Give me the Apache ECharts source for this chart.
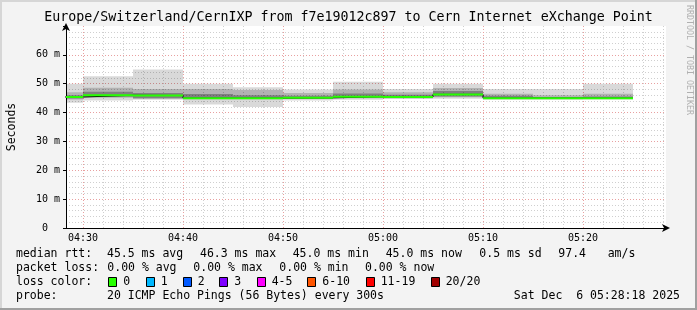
<!DOCTYPE html>
<html><head><meta charset="utf-8">
<script src="https://cdn.jsdelivr.net/npm/echarts@6/dist/echarts.min.js"></script>
<style>html,body{margin:0;padding:0;background:#f3f3f3}#c{width:697px;height:310px}</style>
</head><body><div id="c"></div>
<script>
// time in minutes after 04:00
const segStart = [25,30,35,40,45,50,55,60,65,70,75,80];
const segEnd   = [30,35,40,45,50,55,60,65,70,75,80,85];
const median   = [45.4,46.0,45.9,45.0,45.0,45.1,45.5,45.4,46.3,45.0,45.0,45.0];
const outerLo  = [43.4,44.2,44.4,42.8,41.9,44.2,44.4,44.7,44.8,44.4,44.4,44.5];
const outerHi  = [50.0,52.6,54.9,50.0,48.8,48.0,50.7,48.2,50.0,48.2,48.2,50.0];
const midLo    = [44.5,45.1,44.8,44.6,44.6,44.7,45.0,45.0,45.3,44.8,44.8,44.8];
const midHi    = [47.0,48.6,48.2,48.2,47.8,46.8,48.0,47.0,48.5,46.5,46.0,46.5];
const innerLo  = [44.9,45.5,45.0,44.9,44.9,44.9,45.2,45.2,45.6,44.9,44.9,44.9];
const innerHi  = [46.0,47.2,46.8,46.4,46.0,45.8,46.6,46.2,47.5,45.8,45.4,45.6];
const xMin = 28.3, xMax = 88.3;
const xTickValues = [30,40,50,60,70,80];
const xTickLabels = ['04:30','04:40','04:50','05:00','05:10','05:20'];
const xMinorGrid = [32,34,36,38,42,44,46,48,52,54,56,58,62,64,66,68,72,74,76,78,82,84,86,88];
const lossColors = ['#26ff00','#00b8ff','#0059ff','#7e00ff','#ff00ff','#ff5500','#ff0000','#a10000'];
const lossLabels = ['0','1','2','3','4-5','6-10','11-19','20/20'];
const medianStats = ['45.5 ms avg','46.3 ms max','45.0 ms min','45.0 ms now','0.5 ms sd','97.4','am/s'];
const lossStats = ['0.00 % avg','0.00 % max','0.00 % min','0.00 % now'];

const MONO = '"DejaVu Sans Mono", monospace';
const chart = echarts.init(document.getElementById('c'), null, {renderer:'canvas'});

function band(lo, hi) {
  return segStart.map((s,i) => [s, segEnd[i], lo[i], hi[i]]);
}
function rectRender(color) {
  return function(params, api) {
    const p0 = api.coord([api.value(0), api.value(3)]);
    const p1 = api.coord([api.value(1), api.value(2)]);
    return {type:'rect', shape:{x:p0[0], y:p0[1], width:p1[0]-p0[0], height:p1[1]-p0[1]}, style:{fill:color}};
  };
}
const stepData = segStart.map((s,i)=>[s, median[i]]).concat([[segEnd[segEnd.length-1], median[median.length-1]]]);
const greenData = segStart.map((s,i)=>[s, segEnd[i], median[i]]);

// legend graphics
const g = [];
const txt = (x,y,t,extra) => g.push(Object.assign({type:'text', x:x, y:y, style:{text:t, font:'11.5px '+MONO, fill:'#000', textVerticalAlign:'middle'}, silent:true}, extra||{}));
txt(16,254,'median rtt:');
[107,200,292.7,385.7,479.3,558.3,607.7].forEach((x,i)=>txt(x,254,medianStats[i]));
txt(16,268,'packet loss:');
[107.3,193.3,279.3,365].forEach((x,i)=>txt(x,268,lossStats[i]));
txt(16,282,'loss color:');
[108.3,145.7,182.7,219.3,256.7,307.3,365.7,430.7].forEach((x,i)=>{
  g.push({type:'rect', shape:{x:Math.round(x)+0.5, y:277.5, width:8, height:9}, style:{fill:lossColors[i], stroke:'#000', lineWidth:1}, silent:true});
  txt(x+15,282,lossLabels[i]);
});
txt(16,296,'probe:');
txt(107,296,'20 ICMP Echo Pings (56 Bytes) every 300s');
txt(680,296,'Sat Dec  6 05:28:18 2025',{style:{text:'Sat Dec  6 05:28:18 2025', font:'11.5px '+MONO, fill:'#000', textVerticalAlign:'middle', textAlign:'right'}});
g.push({type:'text', x:348.5, y:18, style:{text:'Europe/Switzerland/CernIXP from f7e19012c897 to Cern Internet eXchange Point', font:'13.3px '+MONO, fill:'#000', textAlign:'center', textVerticalAlign:'middle'}, silent:true});
g.push({type:'text', x:689, y:5, rotation:-Math.PI/2, style:{text:'RRDTOOL / TOBI OETIKER', font:'8.3px '+MONO, fill:'#b0b0b0', textAlign:'left', textVerticalAlign:'middle'}, silent:true});
// frame
g.push({type:'rect', shape:{x:0,y:0,width:697,height:2}, style:{fill:'#d6d6d6'}, silent:true});
g.push({type:'rect', shape:{x:0,y:0,width:2,height:310}, style:{fill:'#d6d6d6'}, silent:true});
g.push({type:'rect', shape:{x:695,y:0,width:2,height:310}, style:{fill:'#a0a0a0'}, silent:true});
g.push({type:'rect', shape:{x:0,y:308,width:697,height:2}, style:{fill:'#a0a0a0'}, silent:true});

const gridLines = xMinorGrid.map(v=>({xAxis:v, lineStyle:{color:'#cfcfcf', type:[1,2], width:1}}))
  .concat(xTickValues.map(v=>({xAxis:v, lineStyle:{color:'#e8a0a0', type:[1,2], width:1}})));

chart.setOption({
  animation:false,
  backgroundColor:'#f3f3f3',
  grid:{left:66, right:31, top:26, bottom:82, show:true, backgroundColor:'#ffffff', borderWidth:0, containLabel:false, outerBoundsMode:'none'},
  xAxis:{type:'value', min:xMin, max:xMax,
    axisLine:{show:true, onZero:false, lineStyle:{color:'#000', width:1}, symbol:['none','arrow'], symbolSize:[6,8], symbolOffset:[0,4]},
    axisTick:{show:false},
    splitLine:{show:false},
    axisLabel:{customValues:xTickValues, formatter:v=>xTickLabels[xTickValues.indexOf(v)], fontFamily:'DejaVu Sans Mono', fontSize:10, color:'#000', margin:5}
  },
  yAxis:{type:'value', min:0, max:70, interval:10,
    name:'Seconds', nameLocation:'middle', nameRotate:90, nameGap:48,
    nameTextStyle:{fontFamily:'DejaVu Sans Mono', fontSize:11.5, color:'#000'},
    axisLine:{show:true, lineStyle:{color:'#000', width:1}, symbol:['none','arrow'], symbolSize:[6,8], symbolOffset:[0,3]},
    axisTick:{show:true, length:3, lineStyle:{color:'#000'}},
    axisLabel:{fontFamily:'DejaVu Sans Mono', fontSize:10, color:'#000', margin:6,
      formatter:v=> v===0 ? '0  ' : (v>=70 ? '' : v+' m')},
    splitLine:{show:true, showMinLine:false, showMaxLine:false, lineStyle:{color:'#e8a0a0', type:[1,2], width:1}},
    minorTick:{show:false, splitNumber:5},
    minorSplitLine:{show:true, lineStyle:{color:'#cfcfcf', type:[1,2], width:1}}
  },
  series:[
    {type:'custom', name:'outer', clip:true, z:2, renderItem:rectRender('rgba(0,0,0,0.15)'), data:band(outerLo,outerHi),
      markLine:{silent:true, z:1, symbol:['none','none'], label:{show:false}, animation:false, data:gridLines}},
    {type:'custom', name:'mid', clip:true, z:2, renderItem:rectRender('rgba(0,0,0,0.18)'), data:band(midLo,midHi)},
    {type:'custom', name:'inner', clip:true, z:2, renderItem:rectRender('rgba(0,0,0,0.28)'), data:band(innerLo,innerHi)},
    {type:'line', name:'medianStep', step:'end', clip:true, z:3, symbol:'none', data:stepData, lineStyle:{color:'#000', width:1}},
    {type:'custom', name:'median', clip:true, z:4, data:greenData, renderItem:function(params, api){
      const p0 = api.coord([api.value(0), api.value(2)]);
      const p1 = api.coord([api.value(1), api.value(2)]);
      return {type:'rect', shape:{x:p0[0], y:p0[1]-1, width:p1[0]-p0[0], height:2}, style:{fill:lossColors[0]}};
    }}
  ],
  graphic:g
});
</script></body></html>
